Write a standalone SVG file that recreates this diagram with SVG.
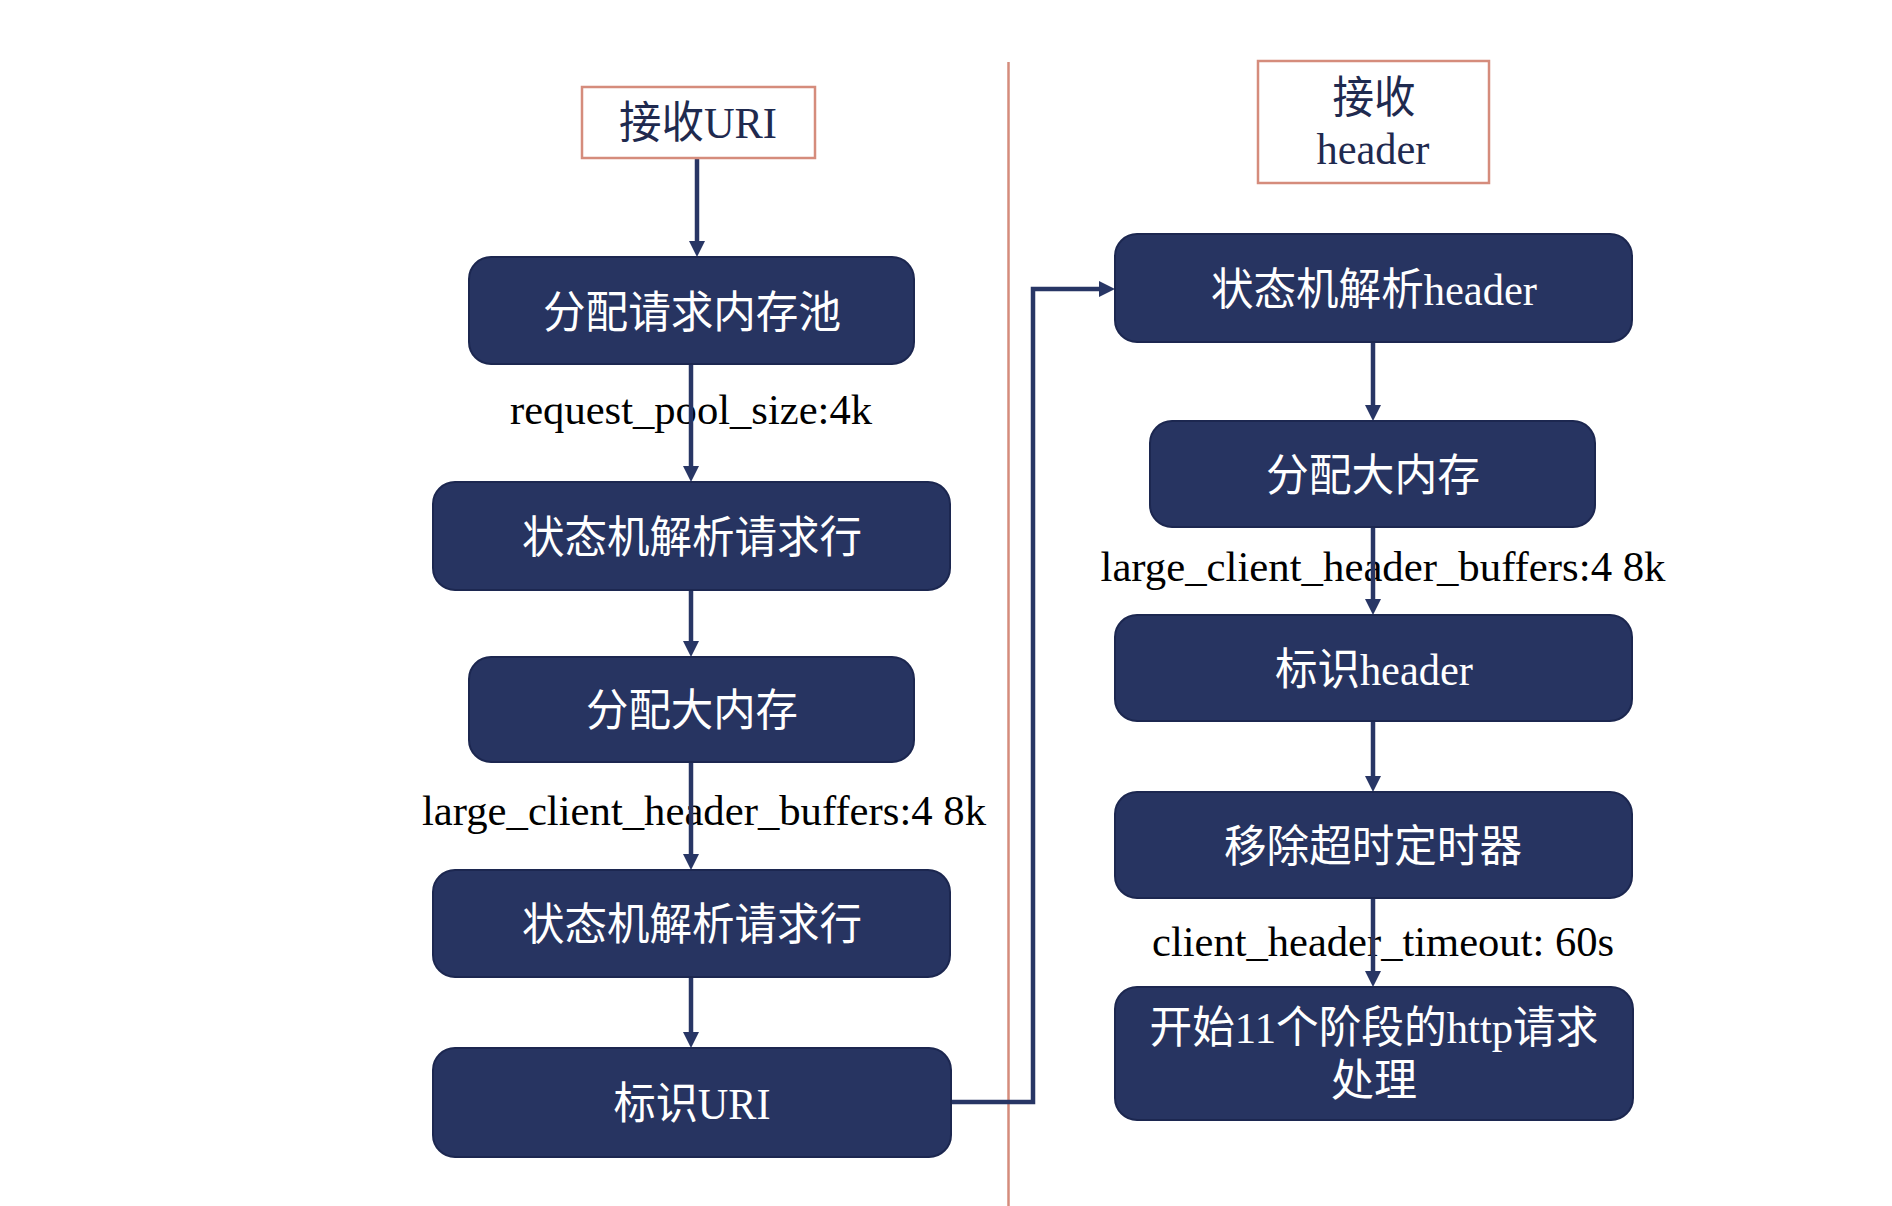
<svg xmlns="http://www.w3.org/2000/svg" width="1892" height="1206" viewBox="0 0 1892 1206">
  <style>
    .title rect { fill: #ffffff; stroke: #d58c7c; stroke-width: 2.5; }
    .title text { fill: #1f2a4f; font-family: "Liberation Serif", "Noto Sans CJK SC", serif; font-size: 44px; text-anchor: middle; }
    .box rect { fill: #273461; stroke: #1c2750; stroke-width: 2; }
    .box text { fill: #ffffff; font-family: "Liberation Serif", "Noto Sans CJK SC", serif; font-size: 44px; text-anchor: middle; }
    .lbl { fill: #000000; font-family: "Liberation Serif", serif; font-size: 42px; text-anchor: middle; }
    .conn path { fill: none; stroke: #283665; stroke-width: 4.5; marker-end: url(#arr); }
    .divider { stroke: #d58c7c; stroke-width: 2.5; }
  </style>
  <defs>
    <marker id="arr" viewBox="0 0 16 16" refX="6" refY="8" markerWidth="16" markerHeight="16" markerUnits="userSpaceOnUse" orient="auto">
      <path d="M0,0 L16,8 L0,16 z" fill="#283665"/>
    </marker>
  </defs>
  <rect x="0" y="0" width="1892" height="1206" fill="#ffffff"/>

  <line class="divider" x1="1008.5" y1="62" x2="1008.5" y2="1206"/>

  <g id="labels">
    <text class="lbl" x="691" y="424" textLength="362" lengthAdjust="spacingAndGlyphs">request_pool_size:4k</text>
    <text class="lbl" x="704" y="825" textLength="564" lengthAdjust="spacingAndGlyphs">large_client_header_buffers:4 8k</text>
    <text class="lbl" x="1383" y="581" textLength="565" lengthAdjust="spacingAndGlyphs">large_client_header_buffers:4 8k</text>
    <text class="lbl" x="1383" y="956" textLength="462" lengthAdjust="spacingAndGlyphs">client_header_timeout: 60s</text>
  </g>

  <g id="connectors" class="conn">
    <path d="M697,158 V247"/>
    <path d="M691,364 V472"/>
    <path d="M691,590 V647"/>
    <path d="M691,762 V860"/>
    <path d="M691,977 V1038"/>
    <path d="M951,1102 H1033 V289 H1105"/>
    <path d="M1373,342 V411"/>
    <path d="M1373,527 V605"/>
    <path d="M1373,721 V782"/>
    <path d="M1373,898 V977"/>
  </g>

  <g id="recv-uri" class="title">
    <rect x="582" y="87" width="233" height="71"/>
    <text x="698" y="138" textLength="158" lengthAdjust="spacingAndGlyphs">接收URI</text>
  </g>
  <g id="recv-header" class="title">
    <rect x="1258" y="61" width="231" height="122"/>
    <text x="1374" y="113" textLength="83" lengthAdjust="spacingAndGlyphs">接收</text>
    <text x="1373" y="164" textLength="113" lengthAdjust="spacingAndGlyphs">header</text>
  </g>

  <g id="alloc-pool" class="box">
    <rect x="469" y="257" width="445" height="107" rx="22"/>
    <text x="692" y="328" textLength="298" lengthAdjust="spacingAndGlyphs">分配请求内存池</text>
  </g>
  <g id="parse-line-1" class="box">
    <rect x="433" y="482" width="517" height="108" rx="22"/>
    <text x="692" y="553" textLength="340" lengthAdjust="spacingAndGlyphs">状态机解析请求行</text>
  </g>
  <g id="alloc-large-left" class="box">
    <rect x="469" y="657" width="445" height="105" rx="22"/>
    <text x="692" y="726" textLength="212" lengthAdjust="spacingAndGlyphs">分配大内存</text>
  </g>
  <g id="parse-line-2" class="box">
    <rect x="433" y="870" width="517" height="107" rx="22"/>
    <text x="692" y="940" textLength="340" lengthAdjust="spacingAndGlyphs">状态机解析请求行</text>
  </g>
  <g id="mark-uri" class="box">
    <rect x="433" y="1048" width="518" height="109" rx="22"/>
    <text x="692" y="1119" textLength="157" lengthAdjust="spacingAndGlyphs">标识URI</text>
  </g>

  <g id="parse-header" class="box">
    <rect x="1115" y="234" width="517" height="108" rx="22"/>
    <text x="1374" y="305" textLength="326" lengthAdjust="spacingAndGlyphs">状态机解析header</text>
  </g>
  <g id="alloc-large-right" class="box">
    <rect x="1150" y="421" width="445" height="106" rx="22"/>
    <text x="1373" y="491" textLength="214" lengthAdjust="spacingAndGlyphs">分配大内存</text>
  </g>
  <g id="mark-header" class="box">
    <rect x="1115" y="615" width="517" height="106" rx="22"/>
    <text x="1374" y="685" textLength="198" lengthAdjust="spacingAndGlyphs">标识header</text>
  </g>
  <g id="remove-timer" class="box">
    <rect x="1115" y="792" width="517" height="106" rx="22"/>
    <text x="1373" y="862" textLength="298" lengthAdjust="spacingAndGlyphs">移除超时定时器</text>
  </g>
  <g id="start-phases" class="box">
    <rect x="1115" y="987" width="518" height="133" rx="22"/>
    <text x="1374" y="1043" textLength="449" lengthAdjust="spacingAndGlyphs">开始11个阶段的http请求</text>
    <text x="1374" y="1096" textLength="86" lengthAdjust="spacingAndGlyphs">处理</text>
  </g>
</svg>
